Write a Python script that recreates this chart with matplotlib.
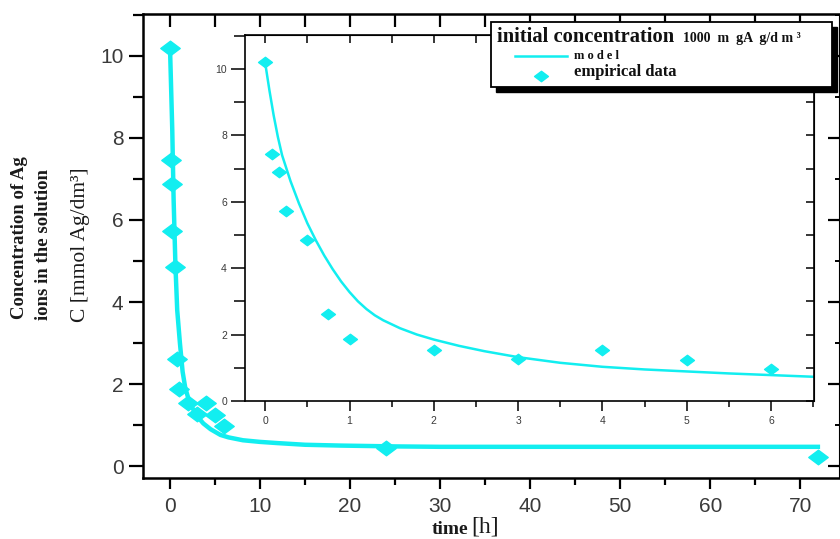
import numpy as np
import matplotlib
matplotlib.use("Agg")
import matplotlib.pyplot as plt
from matplotlib.path import Path as MPath
from matplotlib.patches import Rectangle
from matplotlib.lines import Line2D
from matplotlib.ticker import MultipleLocator

# ── data ──────────────────────────────────────────────────────────────────────
T_DATA = [0, 0.083, 0.167, 0.25, 0.5, 0.75, 1, 2, 3, 4, 5, 6, 24, 72]
C_DATA = [10.2, 7.45, 6.88, 5.73, 4.85, 2.62, 1.88, 1.54, 1.27, 1.54, 1.24, 0.97, 0.45, 0.21]

# model curve, main panel (0..72 h)
T_FIT = [0, 0.25, 0.4, 0.6, 0.8, 1.1, 1.4, 1.7, 2.2, 3.0, 3.7, 4.5, 5.6,
         6.5, 8.1, 10, 12, 15, 19, 25, 30, 40, 50, 60, 72.2]
C_FIT = [10.2, 8.2, 6.5, 4.9, 3.8, 3.0, 2.3, 1.9, 1.53, 1.22, 1.04, 0.9, 0.76,
         0.7, 0.63, 0.59, 0.56, 0.52, 0.5, 0.48, 0.47, 0.47, 0.47, 0.47, 0.47]

# model curve, inset (0..6.5 h)
T_FIT_IN = [0, 0.05, 0.1, 0.15, 0.2, 0.3, 0.4, 0.5, 0.6, 0.7, 0.8, 0.9, 1.0, 1.1, 1.2,
            1.3, 1.4, 1.6, 1.8, 2.0, 2.3, 2.6, 3.0, 3.5, 4.0, 4.5, 5.0, 5.5, 6.0, 6.5]
C_FIT_IN = [10.17, 9.35, 8.6, 7.95, 7.4, 6.62, 5.95, 5.35, 4.84, 4.38, 3.97, 3.6, 3.28,
            3.0, 2.77, 2.58, 2.43, 2.19, 2.0, 1.85, 1.66, 1.5, 1.32, 1.15, 1.03, 0.95,
            0.89, 0.83, 0.78, 0.73]

CYAN = "#12eef0"
TICK_COL = "#3a3a3a"
TICK_FONT = ["Liberation Sans", "DejaVu Sans"]
SERIF = ["Liberation Serif", "DejaVu Serif"]

# flat diamond marker (wider than tall)
DIAMOND = MPath([(-1, 0), (0, 0.75), (1, 0), (0, -0.75), (-1, 0)],
                [MPath.MOVETO, MPath.LINETO, MPath.LINETO, MPath.LINETO, MPath.CLOSEPOLY])

W, H = 840, 539
fig = plt.figure(figsize=(W / 100, H / 100), dpi=100)


def fx(px):
    return px / W


def fy(py):
    return 1 - py / H


# ── main axes ────────────────────────────────────────────────────────────────
ax = fig.add_axes([fx(143), fy(478), fx(839) - fx(143), fy(14) - fy(478)])
ax.plot(T_FIT, C_FIT, color=CYAN, lw=3.2, solid_capstyle="butt", zorder=2)
ax.plot(T_DATA, C_DATA, ls="none", marker=DIAMOND, ms=14, color=CYAN, mec=CYAN, zorder=3)
ax.set_xlim(-3.0, 74.3)
ax.set_ylim(-0.29, 11.02)
ax.xaxis.set_major_locator(MultipleLocator(10))
ax.xaxis.set_minor_locator(MultipleLocator(5))
ax.yaxis.set_major_locator(MultipleLocator(2))
ax.yaxis.set_minor_locator(MultipleLocator(1))
for s in ax.spines.values():
    s.set_linewidth(1.8)
ax.spines["right"].set_visible(False)
ax.tick_params(which="both", direction="out", width=1.6, colors="black",
               labelcolor=TICK_COL)
ax.tick_params(axis="x", which="major", length=8, pad=6)
ax.tick_params(axis="x", which="minor", length=5)
ax.tick_params(axis="y", which="major", length=10, pad=4)
ax.tick_params(axis="y", which="minor", length=7)
for lab in ax.get_xticklabels() + ax.get_yticklabels():
    lab.set_family(TICK_FONT)
    lab.set_fontsize(15)

top = ax.secondary_xaxis("top")
top.xaxis.set_major_locator(MultipleLocator(5))
top.tick_params(direction="in", length=9, width=1.6, labeltop=False)
right = ax.secondary_yaxis("right")
right.yaxis.set_major_locator(MultipleLocator(2))
right.yaxis.set_minor_locator(MultipleLocator(1))
right.tick_params(which="major", direction="in", length=8, width=1.6, labelright=False)
right.tick_params(which="minor", direction="in", length=3, width=1.4)

# ── inset axes ───────────────────────────────────────────────────────────────
ins = fig.add_axes([fx(245), fy(401), fx(814) - fx(245), fy(35) - fy(401)])
ins.plot(T_FIT_IN, C_FIT_IN, color=CYAN, lw=1.8, zorder=2)
ins.plot(T_DATA, C_DATA, ls="none", marker=DIAMOND, ms=10, color=CYAN, mec=CYAN, zorder=3)
ins.set_xlim(-0.24, 6.51)
ins.set_ylim(0, 11.02)
ins.xaxis.set_major_locator(MultipleLocator(1))
ins.xaxis.set_minor_locator(MultipleLocator(0.5))
ins.yaxis.set_major_locator(MultipleLocator(2))
ins.yaxis.set_minor_locator(MultipleLocator(1))
for s in ins.spines.values():
    s.set_linewidth(1.2)
ins.tick_params(which="both", direction="out", width=1.1, labelcolor=TICK_COL)
ins.tick_params(axis="x", which="major", length=7, pad=4)
ins.tick_params(axis="x", which="minor", length=4)
ins.tick_params(axis="y", which="major", length=10, pad=3)
ins.tick_params(axis="y", which="minor", length=8)
for lab in ins.get_xticklabels() + ins.get_yticklabels():
    lab.set_family(TICK_FONT)
    lab.set_fontsize(7.5)

itop = ins.secondary_xaxis("top")
itop.xaxis.set_major_locator(MultipleLocator(0.5))
itop.tick_params(direction="in", length=6, width=1.1, labeltop=False)
iright = ins.secondary_yaxis("right")
iright.yaxis.set_major_locator(MultipleLocator(1))
iright.tick_params(direction="in", length=6, width=1.1, labelright=False)

# ── axis labels ──────────────────────────────────────────────────────────────
fig.text(fx(20), fy(238), "Concentration of Ag", rotation=90, ha="center", va="center",
         family=SERIF, fontweight="bold", fontsize=13.5, color="#1a1a1a")
fig.text(fx(44), fy(245), "ions in the solution", rotation=90, ha="center", va="center",
         family=SERIF, fontweight="bold", fontsize=13.5, color="#1a1a1a")
fig.text(fx(80), fy(245), "C [mmol Ag/dm³]", rotation=90, ha="center", va="center",
         family=SERIF, fontsize=15.5, color="#1a1a1a")

fig.text(fx(468), fy(529), "time", ha="right", va="center",
         family=SERIF, fontweight="bold", fontsize=14, color="#1a1a1a")
fig.text(fx(471), fy(527), "[h]", ha="left", va="center",
         family=SERIF, fontsize=17, color="#1a1a1a")

# ── legend (drawn by hand to mimic the boxed, shadowed original) ─────────────
bx0, bx1, by0, by1 = 491, 832, 22, 87
fig.patches.append(Rectangle((fx(bx0 + 5), fy(by1 + 5)), fx(bx1) - fx(bx0), fy(by0) - fy(by1),
                             transform=fig.transFigure, facecolor="black",
                             edgecolor="black", zorder=5))
fig.patches.append(Rectangle((fx(bx0), fy(by1)), fx(bx1) - fx(bx0), fy(by0) - fy(by1),
                             transform=fig.transFigure, facecolor="white",
                             edgecolor="black", lw=1.3, zorder=6))
fig.text(fx(497), fy(42), "initial concentration", ha="left", va="baseline",
         family=SERIF, fontweight="bold", fontsize=14.8, color="#111111", zorder=7)
fig.text(fx(683), fy(42), "1000  m  gA  g/d m ³", ha="left", va="baseline",
         family=SERIF, fontweight="bold", fontsize=10, color="#111111", zorder=7)
fig.text(fx(574), fy(56), "m o d e l", ha="left", va="center",
         family=SERIF, fontweight="bold", fontsize=9, color="#111111", zorder=7)
fig.text(fx(574), fy(72), "empirical data", ha="left", va="center",
         family=SERIF, fontweight="bold", fontsize=12, color="#111111", zorder=7)
fig.add_artist(Line2D([fx(515), fx(567)], [fy(56), fy(56)], color=CYAN, lw=1.8,
                      transform=fig.transFigure, zorder=7))
fig.add_artist(Line2D([fx(541)], [fy(76)], ls="none", marker=DIAMOND, ms=10, color=CYAN,
                      transform=fig.transFigure, zorder=7))

fig.savefig("out.png", dpi=100)
